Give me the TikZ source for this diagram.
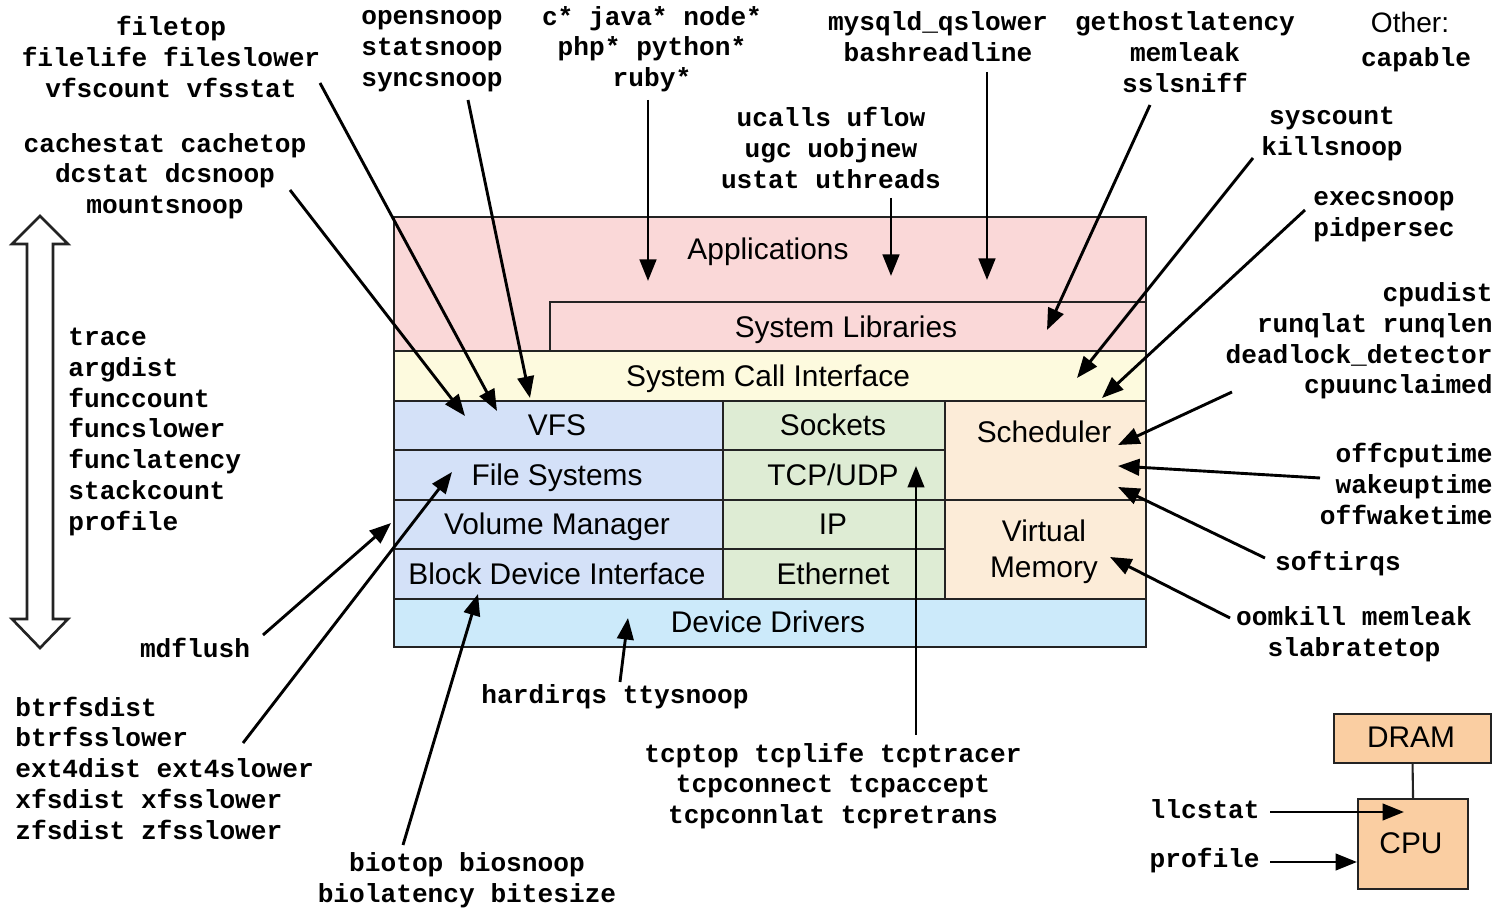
\documentclass[tikz,border=0pt]{standalone}
\usepackage{fontspec}
\setmainfont{Liberation Sans}
\newfontfamily\monofam{Liberation Mono}
\usetikzlibrary{arrows.meta}
\definecolor{linecol}{RGB}{35,35,35}
\definecolor{appcol}{RGB}{250,216,216}
\definecolor{scicol}{RGB}{253,250,222}
\definecolor{bluecol}{RGB}{212,225,248}
\definecolor{greencol}{RGB}{222,236,212}
\definecolor{peachcol}{RGB}{252,236,216}
\definecolor{ddcol}{RGB}{204,234,250}
\definecolor{hwcol}{RGB}{250,206,162}
\newcommand\toolfont{\monofam\bfseries\fontsize{14.9pt}{17.5pt}\selectfont}
\newcommand\labfont{\fontsize{17pt}{20.5pt}\selectfont}
\newcommand\stackrect[6]{\node[stackbox, fill=#6, minimum width={(#4-#2)*0.02cm}, minimum height={(#5-#3)*0.02cm}] (#1) at (#2,#3) {};}
\tikzset{
  tool/.style={font=\toolfont, align=center, inner sep=0pt},
  lab/.style={font=\labfont, align=center, inner sep=0pt, anchor=base},
  stackbox/.style={draw=linecol, line width=1.2pt, inner sep=0pt, anchor=north west},
  arr/.style={draw=black, line width=1.65pt, -{Triangle[length=0.43cm,width=0.33cm]}},
}
\begin{document}
\begin{tikzpicture}[x=0.02cm,y=-0.02cm]
\useasboundingbox[fill=white] (0,0) rectangle (1499,908);

% ---- stack boxes ----
\stackrect{apps}{393}{216}{1145}{350}{appcol}
\stackrect{syslib}{549}{301}{1145}{350}{appcol}
\stackrect{sci}{393}{350}{1145}{400}{scicol}
\stackrect{vfs}{393}{400}{722}{449}{bluecol}
\stackrect{fs}{393}{449}{722}{499}{bluecol}
\stackrect{vm}{393}{499}{722}{548}{bluecol}
\stackrect{bdi}{393}{548}{722}{598}{bluecol}
\stackrect{sock}{722}{400}{944}{449}{greencol}
\stackrect{tcpb}{722}{449}{944}{499}{greencol}
\stackrect{ipb}{722}{499}{944}{548}{greencol}
\stackrect{eth}{722}{548}{944}{598}{greencol}
\stackrect{sched}{944}{400}{1145}{499}{peachcol}
\stackrect{virt}{944}{499}{1145}{598}{peachcol}
\stackrect{dd}{393}{598}{1145}{646}{ddcol}
\stackrect{dram}{1333}{713}{1490}{762}{hwcol}
\stackrect{cpu}{1357}{798}{1467}{888}{hwcol}
\draw[draw=linecol, line width=1.2pt] (dram.south) -- (cpu.north);

% ---- box labels (base line positions) ----
\node[lab] (lApps) at (768,260) {Applications};
\node[lab] (lLib) at (846,338) {System Libraries};
\node[lab] (lSci) at (768,387) {System Call Interface};
\node[lab] (lVfs) at (557,436) {VFS};
\node[lab] (lFs) at (557,486) {File Systems};
\node[lab] (lVm) at (557,535) {Volume Manager};
\node[lab] (lBdi) at (557,585) {Block Device Interface};
\node[lab] (lSock) at (833,436) {Sockets};
\node[lab] (lTcp) at (833,486) {TCP/UDP};
\node[lab] (lIp) at (833,535) {IP};
\node[lab] (lEth) at (833,585) {Ethernet};
\node[lab] (lSched) at (1044,443) {Scheduler};
\node[lab] (lVirt) at (1044,542) {Virtual};
\node[lab] (lMem) at (1044,578) {Memory};
\node[lab] (lDd) at (768,633) {Device Drivers};
\node[lab] (lDram) at (1411,748) {DRAM};
\node[lab] (lCpu) at (1411,854) {CPU};

% ---- tool labels ----
\node[tool] (tFile) at (171,57) {filetop\\filelife fileslower\\vfscount vfsstat};
\node[tool] (tCache) at (165,176) {cachestat cachetop\\dcstat dcsnoop\\mountsnoop};
\node[tool] (tOpen) at (432,51) {opensnoop\\statsnoop\\syncsnoop};
\node[tool] (tLang) at (652,49) {c* java* node*\\php* python*\\ruby*};
\node[tool] (tMysql) at (938,37) {mysqld\_qslower\\bashreadline};
\node[tool] (tGeth) at (1185,52) {gethostlatency\\memleak\\sslsniff};
\node[lab, font=\fontsize{16pt}{19pt}\selectfont] (tOther) at (1410,33) {Other:};
\node[tool] (tCap) at (1416,60) {capable};
\node[tool] (tUcalls) at (831,148) {ucalls uflow\\ugc uobjnew\\ustat uthreads};
\node[tool] (tSys) at (1332,134) {syscount\\killsnoop};
\node[tool] (tExec) at (1384,217) {execsnoop\\pidpersec};
\node[tool, align=right, anchor=east] (tCpud) at (1493,341) {cpudist\\runqlat runqlen\\deadlock\_detector\\cpuunclaimed};
\node[tool, align=right, anchor=east] (tOff) at (1493,484) {offcputime\\wakeuptime\\offwaketime};
\node[tool] (tSoft) at (1338,564) {softirqs};
\node[tool] (tOom) at (1354,634) {oomkill memleak\\slabratetop};
\node[tool, align=left, anchor=west] (tTrace) at (68,432) {trace\\argdist\\funccount\\funcslower\\funclatency\\stackcount\\profile};
\node[tool] (tMd) at (195,648) {mdflush};
\node[tool, align=left, anchor=west] (tBtr) at (15,768) {btrfsdist\\btrfsslower\\ext4dist ext4slower\\xfsdist xfsslower\\zfsdist zfsslower};
\node[tool] (tBio) at (467,880) {biotop biosnoop\\biolatency bitesize};
\node[tool] (tHard) at (615,697) {hardirqs ttysnoop};
\node[tool] (tTcp) at (833,786) {tcptop tcplife tcptracer\\tcpconnect tcpaccept\\tcpconnlat tcpretrans};
\node[tool, anchor=east] (tLlc) at (1260,809) {llcstat};
\node[tool, anchor=east] (tProf) at (1260,861) {profile};

% ---- double arrow ----
\draw[draw=linecol, line width=1.5pt, fill=white]
  (40,216) -- (68,244) -- (53,244) -- (53,619) -- (68,619) -- (40,648)
  -- (12,619) -- (27,619) -- (27,244) -- (12,244) -- cycle;

% ---- connector end points ----
\coordinate (sCache) at (290,190);  \coordinate (eCache) at (465,416);
\coordinate (sFile) at (320,83);    \coordinate (eFile) at (497,411);
\coordinate (sOpen) at (468,100);   \coordinate (eOpen) at (530,398);
\coordinate (sLang) at (648,100);   \coordinate (eLang) at (648,281);
\coordinate (sUc) at (891,198);     \coordinate (eUc) at (891,276);
\coordinate (sMy) at (987,72);      \coordinate (eMy) at (987,280);
\coordinate (sGeth) at (1150,105);  \coordinate (eGeth) at (1047,330);
\coordinate (sSys) at (1253,158);   \coordinate (eSys) at (1077,378);
\coordinate (sExec) at (1305,210);  \coordinate (eExec) at (1102,398);
\coordinate (sCpud) at (1232,392);  \coordinate (eCpud) at (1118,445);
\coordinate (sOff) at (1320,478);   \coordinate (eOff) at (1118,466);
\coordinate (sSoft) at (1265,558);  \coordinate (eSoft) at (1118,487);
\coordinate (sOom) at (1230,618);   \coordinate (eOom) at (1110,557);
\coordinate (sMd) at (263,635);     \coordinate (eMd) at (391,523);
\coordinate (sBtr) at (243,743);    \coordinate (eBtr) at (452,472);
\coordinate (sBio) at (403,845);    \coordinate (eBio) at (478,594);
\coordinate (sHard) at (620,682);   \coordinate (eHard) at (628,618);
\coordinate (sTcp) at (916,735);    \coordinate (eTcp) at (916,466);
\coordinate (sLlc) at (1270,812);   \coordinate (eLlc) at (1404,812);
\coordinate (sProf) at (1270,862);  \coordinate (eProf) at (1357,862);

\foreach \n in {Cache,File,Open,Lang,Uc,My,Geth,Sys,Exec,Cpud,Off,Soft,Oom,Md,Btr,Bio,Hard,Tcp,Llc,Prof}
  \draw[arr] (s\n) -- (e\n);
\end{tikzpicture}
\end{document}
